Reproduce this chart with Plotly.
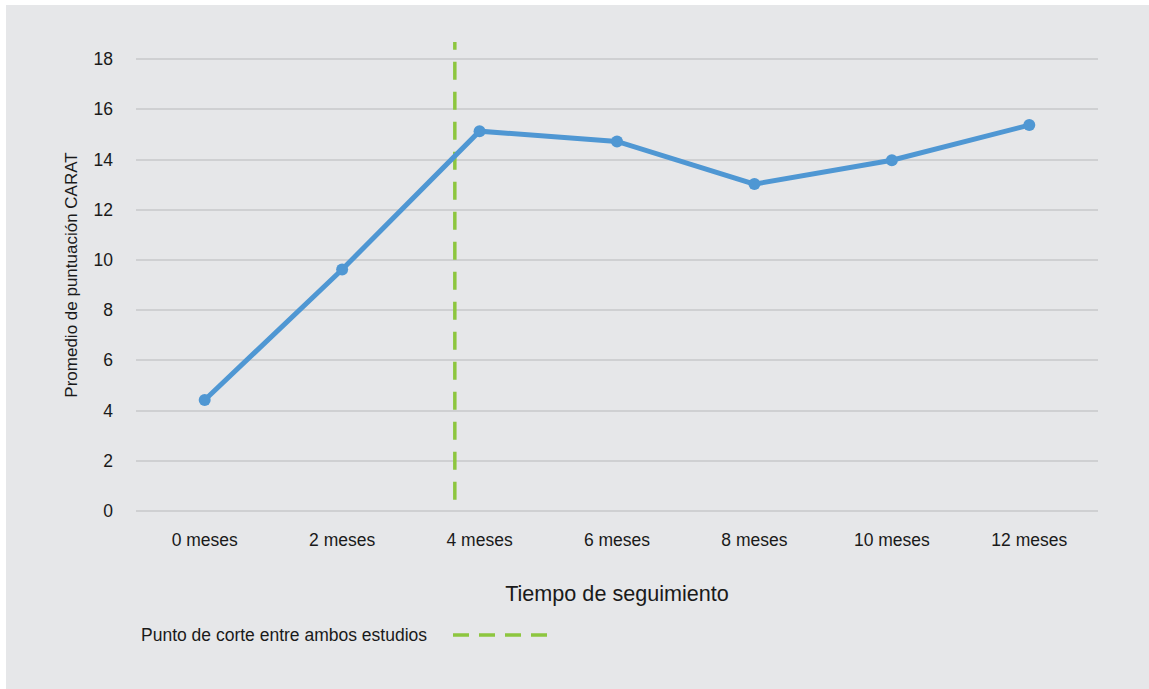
import plotly.graph_objects as go

categories = ["0 meses", "2 meses", "4 meses", "6 meses", "8 meses", "10 meses", "12 meses"]
carat_values = [4.42, 9.62, 15.13, 14.72, 13.02, 13.97, 15.37]
cut_x = [1.82, 1.82]
cut_y = [0.45, 18.68]
y_ticks = [0, 2, 4, 6, 8, 10, 12, 14, 16, 18]
legend_label = "Punto de corte entre ambos estudios"

BG = "#e6e7e9"
GRID = "#cfd0d2"
BLUE = "#4f97d3"
GREEN = "#8dc63f"
FONT = "Liberation Sans"

W, H = 1149, 689
L, R, T, B = 136, 51, 39, 178
pw, ph = W - L - R, H - T - B

def px_x(px):
    return (px - L) / pw

def px_y(py):
    return (H - B - py) / ph

fig = go.Figure()
fig.add_trace(go.Scatter(
    x=cut_x, y=cut_y, mode="lines",
    line=dict(color=GREEN, width=3.5, dash="18px,12px"),
    showlegend=False, hoverinfo="skip"))
fig.add_trace(go.Scatter(
    x=list(range(len(categories))), y=carat_values, mode="lines+markers",
    line=dict(color=BLUE, width=5),
    marker=dict(color=BLUE, size=12),
    showlegend=False))

fig.update_layout(
    width=W, height=H,
    margin=dict(l=L, r=R, t=T, b=B),
    paper_bgcolor=BG, plot_bgcolor=BG,
    font=dict(family=FONT, size=17.5, color="#1a1a1a"),
    xaxis=dict(range=[-0.5, len(categories) - 0.5],
               tickvals=list(range(len(categories))), ticktext=categories,
               showgrid=False, zeroline=False, showline=False,
               ticks="", ticklen=0, ticklabelstandoff=16,
               tickfont=dict(size=17.5, family=FONT),
               title=dict(text="Tiempo de seguimiento", font=dict(size=21.6, family=FONT), standoff=37)),
    yaxis=dict(range=[0, 18.8], tickvals=y_ticks,
               showgrid=True, gridcolor=GRID, gridwidth=2,
               zeroline=False, showline=False, ticks="", ticklabelstandoff=22,
               tickfont=dict(size=17.5, family=FONT),
               title=dict(text="Promedio de puntuación CARAT", font=dict(size=17, family=FONT), standoff=11)),
    shapes=[
        dict(type="line", xref="paper", yref="paper",
             x0=px_x(136), x1=px_x(1098), y0=0, y1=0,
             line=dict(color=GRID, width=2)),
        dict(type="rect", xref="paper", yref="paper",
             x0=px_x(0), x1=px_x(W), y0=px_y(5), y1=px_y(0),
             fillcolor="white", line=dict(width=0), layer="above"),
        dict(type="rect", xref="paper", yref="paper",
             x0=px_x(0), x1=px_x(6), y0=px_y(H), y1=px_y(0),
             fillcolor="white", line=dict(width=0), layer="above"),
        dict(type="line", xref="paper", yref="paper",
             x0=px_x(453), x1=px_x(548), y0=px_y(635), y1=px_y(635),
             line=dict(color=GREEN, width=3.5, dash="16px,10px")),
    ],
    annotations=[
        dict(text=legend_label, xref="paper", yref="paper",
             x=px_x(139), y=px_y(635), xanchor="left", yanchor="middle",
             showarrow=False, font=dict(size=17.5, family=FONT, color="#1a1a1a")),
    ],
)

fig.write_html("out.html")
